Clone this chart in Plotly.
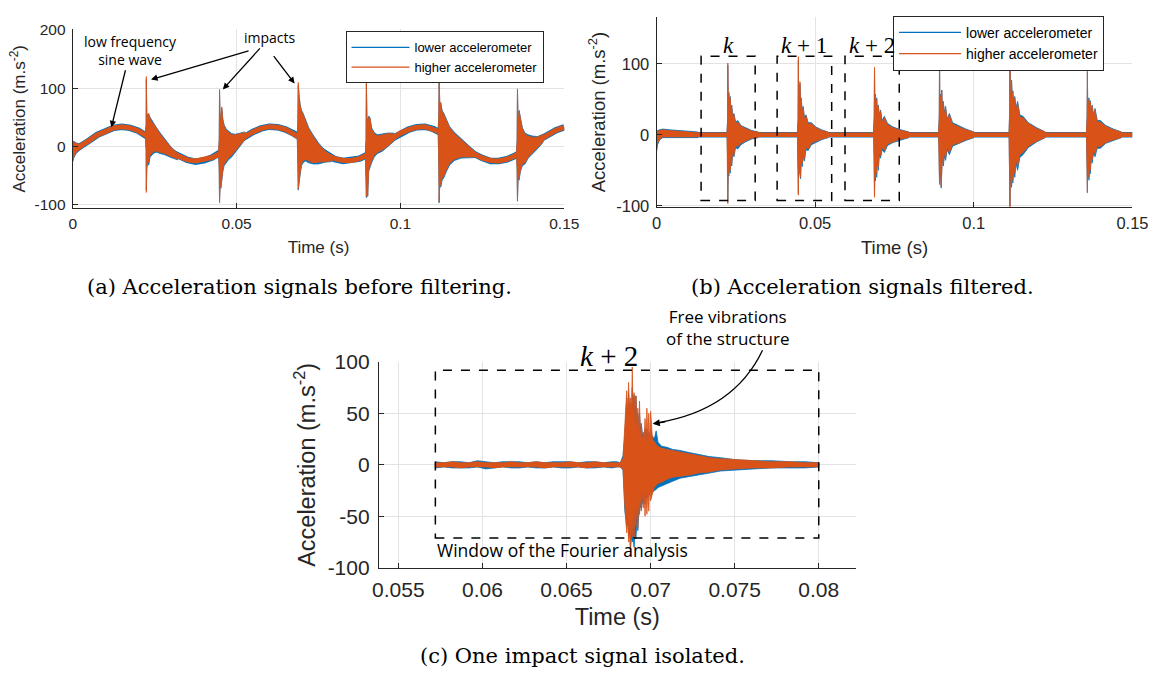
import plotly.graph_objects as go

BLUE = "#0072BD"
ORANGE = "#D95319"
AX = "#262626"
GRID = "#e3e3e3"
SANS = "Liberation Sans"
NOTE = "Open Sans"
SERIF = "DejaVu Serif"

series_names = ["lower accelerometer", "higher accelerometer"]

# ---------------- panel (a): raw signals ----------------
a_time = [0, 0.0025, 0.005, 0.0075, 0.01, 0.0125, 0.015, 0.0175, 0.02, 0.0225, 0.025, 0.0275,
          0.03, 0.0325, 0.035, 0.0375, 0.04, 0.0425, 0.045, 0.0475, 0.05, 0.0525, 0.055, 0.0575,
          0.06, 0.0625, 0.065, 0.0675, 0.07, 0.0725, 0.075, 0.0775, 0.08, 0.0825, 0.085, 0.0875,
          0.09, 0.0925, 0.095, 0.0975, 0.1, 0.1025, 0.105, 0.1075, 0.11, 0.1125, 0.115, 0.1175,
          0.12, 0.1225, 0.125, 0.1275, 0.13, 0.1325, 0.135, 0.1375, 0.14, 0.1425, 0.145, 0.1475, 0.15]
a_sine_higher = [-7, 1, 10, 20, 27, 32, 34, 32, 27, 19, 10, 0, -10, -17, -23, -25, -23, -19, -12, -2,
                 8, 17, 25, 31, 34, 33, 29, 22, 13, 3, -7, -15, -21, -24, -24, -21, -14, -6, 4, 14,
                 23, 29, 33, 34, 30, 24, 16, 6, -4, -13, -20, -24, -25, -22, -16, -8, 2, 12, 21, 28, 33]
a_sine_lower = [-8, 0, 10, 20, 27, 32, 34, 32, 27, 19, 10, 0, -10, -18, -23, -26, -24, -19, -12, -2,
                8, 17, 25, 31, 34, 33, 29, 22, 13, 3, -7, -15, -22, -25, -24, -21, -14, -6, 4, 14,
                23, 29, 33, 34, 30, 24, 16, 6, -4, -13, -20, -25, -25, -22, -16, -8, 2, 12, 21, 28, 33]

a_burst_time = [
    [0, 0.0003, 0.001, 0.002, 0.003],
    [0.0221, 0.0224, 0.02245, 0.0226, 0.0229, 0.0232, 0.0236, 0.0241, 0.0248, 0.0256, 0.0266, 0.0280, 0.0300, 0.0320],
    [0.0445, 0.0447, 0.0448, 0.0450, 0.0452, 0.0455, 0.0458, 0.0462, 0.0468, 0.0475, 0.0485, 0.0497, 0.0510, 0.0525],
    [0.0685, 0.0687, 0.0688, 0.0689, 0.0691, 0.0694, 0.0698, 0.0703, 0.0710, 0.0720, 0.0733, 0.0750, 0.0770, 0.0790],
    [0.0893, 0.0895, 0.0896, 0.0898, 0.0900, 0.0903, 0.0907, 0.0912, 0.0920, 0.0930, 0.0945, 0.0960, 0.0980],
    [0.1115, 0.1117, 0.1118, 0.1120, 0.1123, 0.1127, 0.1133, 0.1140, 0.1150, 0.1165, 0.1185, 0.1205, 0.1225],
    [0.1354, 0.1356, 0.1357, 0.1359, 0.1362, 0.1366, 0.1372, 0.1380, 0.1390, 0.1402, 0.1418, 0.1435],
]
a_burst_hi_higher = [
    [4, 8, 5, 4, 5],
    [22, 35, 120, 55, 50, 57, 48, 42, 38, 30, 22, 12, -2, -12],
    [-9, 10, 98, 40, 50, 68, 45, 35, 28, 24, 20, 20, 22, 24],
    [20, 40, 110, 92, 85, 70, 60, 55, 45, 30, 18, 4, -8, -15],
    [-11, 10, 112, 40, 45, 50, 48, 30, 22, 18, 20, 22, 22],
    [28, 50, 122, 70, 76, 60, 54, 45, 32, 22, 12, 2, -8],
    [-11, 10, 99, 40, 60, 45, 30, 21, 18, 16, 16, 20],
]
a_burst_lo_higher = [
    [-24, -18, -10, -6, -2],
    [16, -5, -79, -35, -25, -28, -15, -12, -8, -8, -10, -12, -17, -22],
    [-15, -40, -97, -60, -70, -55, -40, -30, -25, -20, -15, -8, 2, 12],
    [14, -30, -73, -67, -60, -45, -30, -25, -22, -25, -28, -28, -26, -25],
    [-19, -40, -86, -50, -84, -40, -34, -25, -15, -10, -6, 0, 10],
    [22, -30, -95, -60, -67, -55, -50, -40, -29, -22, -18, -18, -18],
    [-19, -40, -92, -50, -55, -40, -30, -28, -18, -12, -2, 8],
]
a_burst_hi_lower = [
    [6, 9, 6, 5, 6],
    [23, 38, 115, 58, 52, 55, 50, 45, 40, 32, 24, 13, -1, -11],
    [-8, 12, 95, 42, 52, 65, 47, 37, 30, 26, 22, 21, 23, 25],
    [21, 42, 105, 90, 86, 72, 62, 57, 47, 32, 20, 6, -7, -14],
    [-10, 12, 108, 42, 47, 52, 50, 32, 24, 20, 21, 23, 23],
    [29, 52, 118, 72, 74, 62, 56, 47, 34, 24, 14, 3, -7],
    [-10, 12, 96, 42, 62, 47, 32, 23, 20, 18, 17, 21],
]
a_burst_lo_lower = [
    [-26, -20, -12, -7, -3],
    [15, -8, -75, -38, -28, -32, -18, -15, -11, -10, -12, -14, -19, -23],
    [-16, -42, -94, -62, -72, -58, -43, -33, -28, -23, -18, -10, 0, 11],
    [13, -32, -75, -70, -63, -48, -33, -28, -25, -28, -30, -30, -27, -26],
    [-20, -42, -88, -52, -86, -43, -37, -28, -18, -12, -8, -1, 9],
    [21, -32, -97, -62, -70, -58, -53, -43, -32, -24, -20, -20, -19],
    [-20, -42, -94, -53, -58, -43, -33, -30, -20, -14, -4, 7],
]

# ---------------- panel (b): filtered signals ----------------
b_base_time = [0.0, 0.15]
b_base_higher = [0, 0]
b_base_lower = [0, 0]
b_burst_time = [
    [0, 0.0003, 0.001, 0.002, 0.004, 0.007, 0.01, 0.013],
    [0.0222, 0.0224, 0.02245, 0.0226, 0.0228, 0.0230, 0.0232, 0.0234, 0.0237, 0.0240, 0.0244, 0.0249, 0.0256, 0.0266, 0.0280, 0.0300, 0.0320],
    [0.0444, 0.0446, 0.0447, 0.0448, 0.0450, 0.0452, 0.0454, 0.0456, 0.0459, 0.0462, 0.0466, 0.0471, 0.0478, 0.0488, 0.0502, 0.0520, 0.0540],
    [0.0684, 0.0686, 0.0687, 0.0688, 0.0690, 0.0692, 0.0694, 0.0696, 0.0699, 0.0702, 0.0706, 0.0711, 0.0718, 0.0728, 0.0745, 0.0770, 0.0795],
    [0.0889, 0.0891, 0.0892, 0.0893, 0.0895, 0.0897, 0.0899, 0.0901, 0.0904, 0.0907, 0.0911, 0.0916, 0.0923, 0.0933, 0.0950, 0.0975, 0.1000],
    [0.1111, 0.1113, 0.1114, 0.1115, 0.1117, 0.1119, 0.1121, 0.1123, 0.1126, 0.1129, 0.1133, 0.1138, 0.1145, 0.1155, 0.1172, 0.1198, 0.1225],
    [0.1355, 0.1357, 0.1358, 0.1359, 0.1361, 0.1363, 0.1365, 0.1367, 0.1370, 0.1373, 0.1377, 0.1382, 0.1389, 0.1399, 0.1416, 0.1440, 0.1465],
]
b_burst_hi_higher = [
    [3, 5, 6, 7, 6, 5, 4, 3],
    [3, 20, 101, 45, 60, 38, 52, 30, 40, 24, 28, 16, 18, 12, 9, 5, 4],
    [3, 20, 110, 40, 45, 75, 45, 50, 30, 38, 22, 26, 15, 16, 10, 6, 4],
    [3, 25, 95, 40, 55, 35, 50, 30, 40, 25, 33, 18, 24, 14, 10, 6, 4],
    [3, 25, 112, 40, 55, 40, 62, 35, 45, 28, 38, 20, 28, 15, 12, 7, 4],
    [3, 30, 122, 45, 60, 75, 50, 60, 40, 52, 35, 45, 25, 24, 16, 9, 4],
    [3, 25, 90, 35, 45, 50, 32, 46, 28, 40, 25, 35, 18, 18, 12, 7, 4],
]
b_burst_lo_higher = [
    [-22, -12, -6, -3, -2, -3, -3, -3],
    [-3, -30, -97, -45, -55, -35, -50, -30, -40, -22, -28, -15, -17, -12, -9, -5, -4],
    [-3, -30, -85, -40, -45, -50, -60, -30, -40, -28, -34, -18, -20, -12, -10, -6, -4],
    [-3, -30, -88, -45, -60, -40, -55, -30, -45, -25, -30, -18, -22, -13, -10, -6, -4],
    [-3, -30, -70, -40, -50, -73, -45, -30, -40, -26, -32, -18, -25, -14, -12, -7, -4],
    [-3, -40, -103, -45, -60, -70, -50, -64, -42, -55, -35, -45, -28, -25, -16, -9, -4],
    [-3, -35, -82, -40, -55, -60, -40, -50, -28, -35, -22, -27, -16, -17, -11, -7, -4],
]
b_burst_hi_lower = [
    [4, 6, 7, 8, 7, 6, 5, 4],
    [4, 22, 98, 48, 58, 42, 54, 33, 42, 27, 30, 18, 20, 13, 10, 6, 4],
    [4, 22, 105, 44, 48, 72, 48, 52, 33, 40, 25, 28, 17, 17, 11, 7, 4],
    [4, 27, 92, 44, 57, 38, 52, 33, 42, 28, 35, 20, 26, 16, 11, 7, 4],
    [4, 27, 108, 44, 57, 44, 63, 38, 47, 31, 40, 22, 30, 17, 13, 8, 4],
    [4, 32, 118, 48, 62, 77, 53, 62, 43, 54, 38, 47, 28, 26, 17, 10, 4],
    [4, 27, 88, 38, 47, 52, 35, 48, 31, 42, 28, 37, 20, 20, 13, 8, 4],
]
b_burst_lo_lower = [
    [-23, -14, -7, -4, -3, -4, -4, -4],
    [-4, -32, -95, -50, -58, -40, -54, -34, -44, -26, -31, -18, -20, -14, -10, -6, -4],
    [-4, -32, -83, -44, -50, -55, -62, -34, -45, -31, -37, -21, -22, -14, -11, -7, -4],
    [-4, -33, -86, -50, -65, -45, -60, -35, -50, -30, -33, -21, -25, -15, -11, -7, -4],
    [-4, -33, -68, -45, -55, -75, -50, -35, -44, -30, -36, -21, -28, -16, -13, -8, -4],
    [-4, -43, -100, -50, -64, -74, -55, -68, -46, -60, -40, -50, -32, -28, -18, -10, -4],
    [-4, -38, -80, -45, -58, -64, -44, -55, -32, -40, -26, -31, -19, -19, -12, -8, -4],
]
# analysis windows k, k+1, k+2 (time start/end, acceleration bottom/top)
b_window_t0 = [0.01404, 0.0380, 0.0594]
b_window_t1 = [0.03108, 0.0552, 0.0765]
b_window_lo = [-92.5, -92.5, -92.5]
b_window_hi = [110.6, 110.6, 110.6]
b_window_label = ["<i>k</i>", "<i>k</i> + 1", "<i>k</i> + 2"]

# ---------------- panel (c): one impact ----------------
c_time = [0.0572, 0.0577, 0.0582, 0.0587, 0.0592, 0.0597, 0.0602, 0.0607, 0.0612, 0.0617, 0.0622, 0.0627,
          0.0632, 0.0637, 0.0642, 0.0647, 0.0652, 0.0657, 0.0662, 0.0667, 0.0672, 0.0677, 0.0680, 0.0682,
          0.06836, 0.06847, 0.06858, 0.06864, 0.06869, 0.06875, 0.0688, 0.06886, 0.06891, 0.06896, 0.06902,
          0.06907, 0.06913, 0.06918, 0.06924, 0.06929, 0.06934, 0.0694, 0.06945, 0.06951, 0.06956, 0.06962,
          0.06967, 0.06973, 0.06978, 0.06984, 0.06989, 0.06995, 0.07, 0.07011, 0.07022, 0.07033, 0.07044,
          0.07066, 0.07098, 0.07131, 0.07175, 0.07229, 0.07284, 0.07349, 0.07415, 0.07502, 0.07611, 0.0772,
          0.0783, 0.0792, 0.08]
c_hi_higher = [2, 2, 3, 2, 2, 3, 2, 2, 2, 3, 2, 2, 3, 2, 2, 2, 3, 2, 2, 3, 2, 2, 2, 2,
               6, 35, 72, 40, 80, 50, 65, 45, 95, 45, 70, 40, 67, 35, 55, 30, 62, 25, 40, 22,
               32, 25, 45, 20, 55, 22, 50, 20, 52, 25, 22, 20, 18, 16, 15, 14, 12, 11, 9, 7,
               6, 5, 4, 3, 3, 2, 2]
c_lo_higher = [-2, -2, -2, -3, -2, -2, -2, -3, -2, -2, -2, -2, -2, -3, -2, -2, -2, -2, -3, -2, -2, -2, -2, -2,
               -4, -40, -66, -45, -75, -55, -89, -60, -70, -50, -72, -45, -60, -40, -62, -35, -48, -30,
               -45, -25, -42, -30, -50, -25, -48, -25, -45, -20, -35, -28, -22, -20, -18, -17, -14, -12,
               -11, -10, -8, -7, -5, -4, -3, -3, -2, -2, -2]
c_hi_lower = [3, 2, 3, 3, 2, 4, 3, 2, 3, 3, 3, 2, 3, 2, 3, 3, 3, 2, 3, 3, 2, 3, 3, 2,
              9, 30, 65, 50, 70, 55, 60, 50, 75, 60, 68, 50, 67, 45, 50, 40, 50, 35, 40, 30,
              30, 28, 35, 30, 35, 28, 32, 25, 30, 28, 25, 33, 22, 18, 17, 15, 14, 12, 10, 8,
              7, 5, 4, 4, 3, 3, 2]
c_lo_lower = [-3, -2, -3, -3, -3, -2, -4, -3, -2, -3, -3, -2, -3, -3, -2, -3, -3, -2, -3, -3, -2, -3, -2, -2,
              -5, -45, -60, -55, -70, -65, -80, -70, -75, -72, -80, -65, -72, -55, -64, -50, -45, -40,
              -42, -35, -38, -32, -38, -30, -33, -30, -30, -28, -27, -27, -25, -24, -22, -20, -18, -16,
              -13, -11, -10, -8, -6, -5, -4, -3, -3, -3, -2]
c_window = [0.0572, 0.08, -71, 92]

# ---------------- ticks ----------------
ab_xticks = [0, 0.05, 0.1, 0.15]
ab_xtext = ["0", "0.05", "0.1", "0.15"]
a_yticks = [-100, 0, 100, 200]
b_yticks = [-100, 0, 100]
c_xticks = [0.055, 0.06, 0.065, 0.07, 0.075, 0.08]
c_xtext = ["0.055", "0.06", "0.065", "0.07", "0.075", "0.08"]
c_yticks = [-100, -50, 0, 50, 100]

captions = ["(a) Acceleration signals before filtering.",
            "(b) Acceleration signals filtered.",
            "(c) One impact signal isolated."]


def envelopes(times, his, los):
    xs, ys = [], []
    for t, h, l in zip(times, his, los):
        xs += list(t) + list(t[::-1]) + [t[0], None]
        ys += list(h) + list(l[::-1]) + [h[0], None]
    return xs, ys


fig = go.Figure()


def add_panel(xa, ya, base_t, base_lo, base_hi, width, extra, bursts_lo, bursts_hi, legend):
    # lower accelerometer first (blue), higher on top (orange)
    if base_t is not None:
        fig.add_trace(go.Scatter(x=base_t, y=base_lo, mode="lines", line=dict(color=BLUE, width=width + extra),
                                 xaxis=xa, yaxis=ya, showlegend=False, hoverinfo="skip"))
    bx, by = envelopes(*bursts_lo)
    fig.add_trace(go.Scatter(x=bx, y=by, mode="lines", fill="toself", fillcolor=BLUE,
                             line=dict(color=BLUE, width=0.8), xaxis=xa, yaxis=ya,
                             showlegend=False, hoverinfo="skip"))
    if base_t is not None:
        fig.add_trace(go.Scatter(x=base_t, y=base_hi, mode="lines", line=dict(color=ORANGE, width=width),
                                 xaxis=xa, yaxis=ya, showlegend=False, hoverinfo="skip"))
    bx, by = envelopes(*bursts_hi)
    fig.add_trace(go.Scatter(x=bx, y=by, mode="lines", fill="toself", fillcolor=ORANGE,
                             line=dict(color=ORANGE, width=0.8), xaxis=xa, yaxis=ya,
                             showlegend=False, hoverinfo="skip"))
    if legend:
        for name, col in zip(series_names, [BLUE, ORANGE]):
            fig.add_trace(go.Scatter(x=[None], y=[None], mode="lines", name=name,
                                     line=dict(color=col, width=1.3), xaxis=xa, yaxis=ya,
                                     legend=legend))


add_panel("x", "y", a_time, a_sine_lower, a_sine_higher, 5, 1.5,
          (a_burst_time, a_burst_hi_lower, a_burst_lo_lower),
          (a_burst_time, a_burst_hi_higher, a_burst_lo_higher), "legend")
add_panel("x2", "y2", b_base_time, b_base_lower, b_base_higher, 4.5, 0.8,
          (b_burst_time, b_burst_hi_lower, b_burst_lo_lower),
          (b_burst_time, b_burst_hi_higher, b_burst_lo_higher), "legend2")
add_panel("x3", "y3", None, None, None, 4, 0,
          ([c_time], [c_hi_lower], [c_lo_lower]),
          ([c_time], [c_hi_higher], [c_lo_higher]), None)


def axis(domain, rng, tickvals, ticktext, fs, anchor, title, tfs, standoff, lstand):
    return dict(domain=domain, range=rng, tickvals=tickvals, ticktext=ticktext,
                showline=True, linecolor=AX, linewidth=1, ticks="inside", ticklen=5,
                tickcolor=AX, tickwidth=1, showgrid=True, gridcolor=GRID, gridwidth=1,
                zeroline=False, anchor=anchor, ticklabelstandoff=lstand,
                tickfont=dict(family=SANS, size=fs, color=AX),
                title=dict(text=title, font=dict(family=SANS, size=tfs, color=AX), standoff=standoff))


W, H = 1172, 688


def px(x):
    return x / W


def py(y):
    return 1 - y / H


YT = "Acceleration (m.s<sup>-2</sup>)"
fig.update_layout(
    width=W, height=H, margin=dict(l=0, r=0, t=0, b=0),
    paper_bgcolor="white", plot_bgcolor="white",
    xaxis=axis([px(68), px(569)], [0, 0.15], ab_xticks, ab_xtext, 15.5, "y", "Time (s)", 17, 10, 1),
    yaxis=axis([py(203), py(18)], [-106, 201], a_yticks, [str(v) for v in a_yticks], 15.5, "x", YT, 17, 4, 3),
    xaxis2=axis([px(663), px(1148)], [0, 0.15], ab_xticks, ab_xtext, 16.5, "y2", "Time (s)", 18.5, 10, 1),
    yaxis2=axis([py(202), py(5)], [-102, 166], b_yticks, [str(v) for v in b_yticks], 16.5, "x2", YT, 18.5, 5, 3),
    xaxis3=axis([px(380), px(866)], [0.05384, 0.0822], c_xticks, c_xtext, 21, "y3", "Time (s)", 23.5, 8, 3),
    yaxis3=axis([py(575), py(362)], [-100, 100], c_yticks, [str(v) for v in c_yticks], 21, "x3", YT, 23.5, 5, 4),
    legend=dict(x=px(346), y=py(20), xanchor="left", yanchor="top", bgcolor="white",
                bordercolor=AX, borderwidth=1, font=dict(family=SANS, size=13, color="black"),
                tracegroupgap=0, itemwidth=58),
    legend2=dict(x=px(904), y=py(4), xanchor="left", yanchor="top", bgcolor="white",
                 bordercolor=AX, borderwidth=1, font=dict(family=SANS, size=14, color="black"),
                 tracegroupgap=0, itemwidth=62),
    showlegend=True,
)

shapes = []
annotations = []
for t0, t1, lo, hi, lab in zip(b_window_t0, b_window_t1, b_window_lo, b_window_hi, b_window_label):
    shapes.append(dict(type="rect", xref="x2", yref="y2", x0=t0, x1=t1, y0=lo, y1=hi,
                       line=dict(color="black", width=1.5, dash="dash"), layer="above"))
    annotations.append(dict(xref="x2", yref="y2", x=(t0 + t1) / 2, y=125, yanchor="middle",
                            xanchor="center", text=lab, showarrow=False,
                            font=dict(family="Liberation Serif", size=23, color="black")))
shapes.append(dict(type="rect", xref="x3", yref="y3", x0=c_window[0], x1=c_window[1],
                   y0=c_window[2], y1=c_window[3],
                   line=dict(color="black", width=1.5, dash="dash"), layer="above"))
# curved arrow in panel (c)
shapes.append(dict(type="path", xref="paper", yref="paper",
                   path=f"M {px(771)},{py(350)} Q {px(742)},{py(412)} {px(664)},{py(425)}",
                   line=dict(color="black", width=1.3)))

ARROW = dict(arrowhead=2, arrowsize=1, arrowwidth=1.3, arrowcolor="black")
# panel (a) notes: text sits at the arrow tail, arrow points at the data
annotations += [
    dict(xref="x", yref="y", x=0.0118, y=33, ax=19, ay=-77, text="low frequency<br>sine wave",
         showarrow=True, standoff=0, font=dict(family=NOTE, size=14, color="black"), **ARROW),
    dict(xref="x", yref="y", x=0.0458, y=98, ax=47, ay=-52, text="impacts", showarrow=True,
         font=dict(family=NOTE, size=14, color="black"), **ARROW),
    dict(xref="x", yref="y", x=0.0239, y=115, ax=99, ay=-29, text="", showarrow=True, **ARROW),
    dict(xref="x", yref="y", x=0.0677, y=108, ax=-22, ay=-29, text="", showarrow=True, **ARROW),
]
# panel (c) notes
annotations += [
    dict(xref="x3", yref="y3", x=0.0675, y=100, yshift=6, xanchor="center", yanchor="middle",
         text="<i>k</i> + 2", showarrow=False,
         font=dict(family="Liberation Serif", size=29, color="black")),
    dict(xref="paper", yref="paper", x=px(735), y=py(326), xanchor="center", yanchor="middle",
         text="Free vibrations<br>of the structure",
         showarrow=False, font=dict(family=NOTE, size=17, color="black")),
    dict(xref="paper", yref="paper", x=px(659), y=py(426), ax=14, ay=-2, text="", showarrow=True,
         arrowhead=2, arrowsize=1.1, arrowwidth=1.3, arrowcolor="black"),
    dict(xref="x3", yref="y3", x=c_window[0], y=-83, xanchor="left", yanchor="middle",
         text="Window of the Fourier analysis",
         showarrow=False, font=dict(family=NOTE, size=17.5, color="black")),
]
# captions
for cx, cy, txt in zip([299, 873, 588], [285, 285, 666], captions):
    annotations.append(dict(xref="paper", yref="paper", x=px(cx), y=py(cy), xanchor="center",
                            yanchor="middle", text=txt, showarrow=False,
                            font=dict(family=SERIF, size=21, color="black")))

fig.update_layout(shapes=shapes, annotations=annotations)
fig.write_html("out.html")
